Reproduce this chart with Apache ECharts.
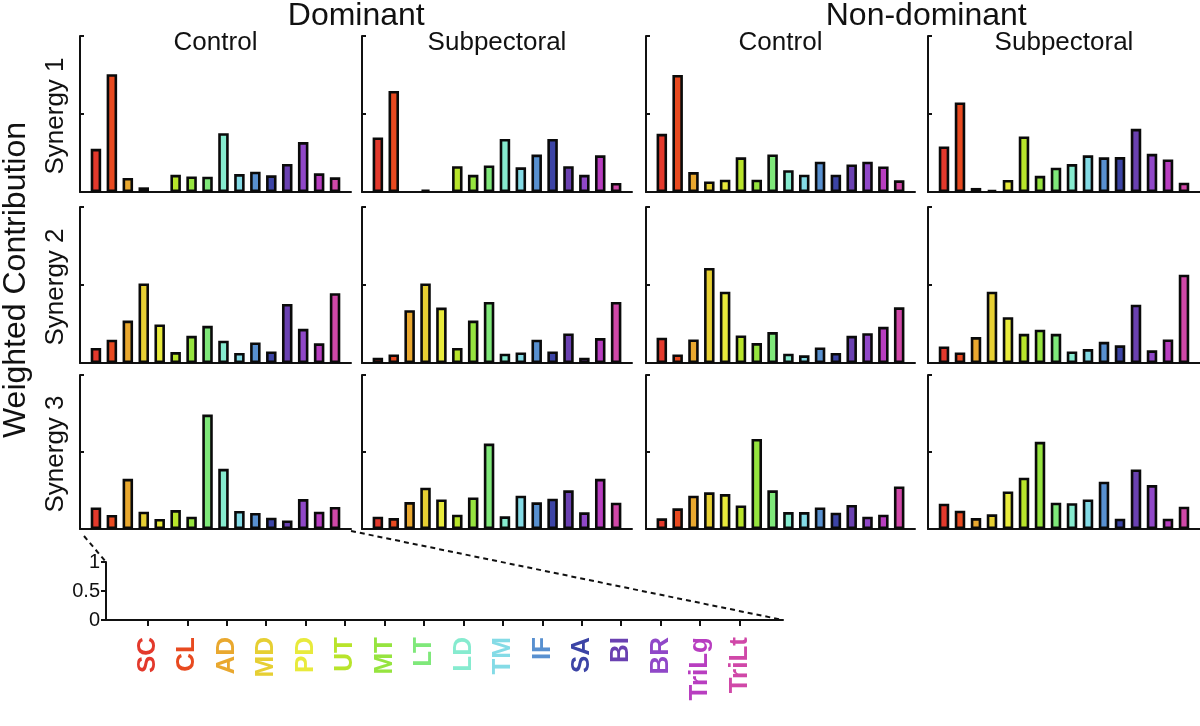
<!DOCTYPE html>
<html>
<head>
<meta charset="utf-8">
<script src="https://cdn.jsdelivr.net/npm/echarts@6/dist/echarts.min.js"></script>
<style>
  html, body { margin: 0; padding: 0; background: #fff; }
  #chart { width: 1200px; height: 726px; }
</style>
</head>
<body>
<div id="chart"></div>
<script>
// ---------- data ----------
const categories = ['SC','CL','AD','MD','PD','UT','MT','LT','LD','TM','IF','SA','BI','BR','TriLg','TriLt'];
const muscleColors = ['#e3392c','#e84a20','#e9a82f','#e6cf33','#e8ea3c','#b8e42b','#96e43f','#7fe87a','#86ebcf','#84dbe6','#5890d0','#3c44a6','#6a41b1','#9048c8','#b83ec0','#d048a8'];
const groupTitles = ['Dominant', 'Non-dominant'];
const conditionTitles = ['Control', 'Subpectoral', 'Control', 'Subpectoral'];
const synergyLabels = ['Synergy 1', 'Synergy 2', 'Synergy 3'];
const yAxisTitle = 'Weighted Contribution';
const keyTickValues = [0, 0.5, 1];

// Synergy 1
const syn1DomControl      = [0.277,0.755,0.090,0.030,0,    0.110,0.100,0.098,0.377,0.115,0.130,0.107,0.180,0.320,0.120,0.094];
const syn1DomSubpectoral  = [0.350,0.648,0,    0.015,0,    0.165,0.110,0.170,0.340,0.158,0.240,0.340,0.165,0.110,0.235,0.058];
const syn1NonControl      = [0.373,0.750,0.128,0.068,0.079,0.222,0.079,0.241,0.140,0.111,0.194,0.111,0.177,0.194,0.164,0.075];
const syn1NonSubpectoral  = [0.292,0.574,0.026,0.012,0.077,0.356,0.104,0.156,0.179,0.235,0.222,0.224,0.405,0.245,0.209,0.060];
// Synergy 2
const syn2DomControl      = [0.096,0.149,0.272,0.510,0.247,0.070,0.174,0.238,0.143,0.064,0.132,0.074,0.379,0.219,0.126,0.447];
const syn2DomSubpectoral  = [0.034,0.055,0.338,0.510,0.355,0.096,0.272,0.391,0.060,0.068,0.149,0.074,0.189,0.034,0.160,0.391];
const syn2NonControl      = [0.162,0.055,0.151,0.609,0.457,0.177,0.128,0.198,0.060,0.049,0.100,0.064,0.174,0.191,0.232,0.357];
const syn2NonSubpectoral  = [0.106,0.068,0.166,0.457,0.294,0.187,0.213,0.187,0.074,0.089,0.136,0.113,0.374,0.081,0.151,0.566];
// Synergy 3
const syn3DomControl      = [0.140,0.091,0.326,0.112,0.065,0.123,0.080,0.743,0.391,0.117,0.104,0.073,0.056,0.194,0.112,0.143];
const syn3DomSubpectoral  = [0.080,0.071,0.175,0.268,0.192,0.093,0.205,0.555,0.082,0.216,0.173,0.197,0.251,0.108,0.326,0.171];
const syn3NonControl      = [0.069,0.134,0.216,0.238,0.227,0.153,0.585,0.251,0.110,0.110,0.140,0.106,0.156,0.080,0.093,0.276];
const syn3NonSubpectoral  = [0.164,0.119,0.071,0.095,0.244,0.333,0.566,0.171,0.168,0.192,0.307,0.067,0.387,0.285,0.067,0.145];

const panelData = [
  [syn1DomControl, syn1DomSubpectoral, syn1NonControl, syn1NonSubpectoral],
  [syn2DomControl, syn2DomSubpectoral, syn2NonControl, syn2NonSubpectoral],
  [syn3DomControl, syn3DomSubpectoral, syn3NonControl, syn3NonSubpectoral]
];

// ---------- layout ----------
const FONT = '"Liberation Sans", Arial, Helvetica, sans-serif';
const INK = '#111';
const colLeft = [80, 362, 646, 928];
const colWidth = [271, 270, 269, 272];
const rowTop = [36, 207, 375];
const rowHeight = [156, 156, 154];
const key = { left: 106, top: 562, width: 677, height: 58 };

const grids = [], xAxes = [], yAxes = [], series = [];
panelData.forEach((row, r) => {
  row.forEach((values, c) => {
    const k = grids.length;
    grids.push({ left: colLeft[c], top: rowTop[r], width: colWidth[c], height: rowHeight[r], containLabel: false });
    xAxes.push({
      type: 'value', gridIndex: k, min: -1, max: 16,
      axisLine: { show: true, onZero: false, lineStyle: { color: INK, width: 2 } },
      axisTick: { show: false }, axisLabel: { show: false }, splitLine: { show: false }
    });
    yAxes.push({
      type: 'value', gridIndex: k, min: 0, max: 1, interval: 0.5,
      axisLine: { show: true, onZero: false, lineStyle: { color: INK, width: 2 } },
      axisTick: { show: true, inside: true, length: 4, lineStyle: { color: INK, width: 2 } },
      axisLabel: { show: false }, splitLine: { show: false }
    });
    series.push({
      type: 'bar', xAxisIndex: k, yAxisIndex: k,
      data: values.map((v, i) => v > 0 ? [i, v] : { value: [i, v], itemStyle: { borderWidth: 0 } }),
      barWidth: 10.5,
      itemStyle: { color: p => muscleColors[p.dataIndex], borderColor: '#0a0a0a', borderWidth: 2.6 },
      silent: true
    });
  });
});

// key axis
const kIdx = grids.length;
grids.push({ left: key.left, top: key.top, width: key.width, height: key.height });
xAxes.push({
  type: 'value', gridIndex: kIdx, min: -1.06, max: 16.1,
  axisLine: { show: true, onZero: false, lineStyle: { color: INK, width: 2 } },
  axisTick: { show: true, customValues: categories.map((_, i) => i), length: 6, lineStyle: { color: INK, width: 2 } },
  axisLabel: {
    show: true, customValues: categories.map((_, i) => i), rotate: 90, margin: 17,
    formatter: v => categories[Math.round(v)] || '',
    color: (v) => muscleColors[Math.round(v)] || INK,
    fontFamily: FONT, fontWeight: 'bold', fontSize: 26
  },
  splitLine: { show: false }
});
yAxes.push({
  type: 'value', gridIndex: kIdx, min: keyTickValues[0], max: keyTickValues[keyTickValues.length - 1], interval: 0.5,
  axisLine: { show: true, onZero: false, lineStyle: { color: INK, width: 2 } },
  axisTick: { show: true, length: 5, lineStyle: { color: INK, width: 2 } },
  axisLabel: { show: true, color: INK, fontFamily: FONT, fontSize: 20, margin: 6 },
  splitLine: { show: false }
});

// ---------- text & annotations ----------
const graphics = [];
const colCenter = c => colLeft[c] + colWidth[c] / 2;
groupTitles.forEach((t, g) => {
  graphics.push({ type: 'text', x: (colCenter(2 * g) + colCenter(2 * g + 1)) / 2 + (g ? 4 : 0), y: 16,
    style: { text: t, font: '32px ' + FONT, fill: INK, align: 'center', verticalAlign: 'middle' } });
});
conditionTitles.forEach((t, c) => {
  graphics.push({ type: 'text', x: colCenter(c), y: 43,
    style: { text: t, font: '26px ' + FONT, fill: INK, align: 'center', verticalAlign: 'middle' } });
});
synergyLabels.forEach((t, r) => {
  graphics.push({ type: 'text', x: 56, y: rowTop[r] + rowHeight[r] / 2 + 2, rotation: Math.PI / 2,
    style: { text: t, font: '26px ' + FONT, fill: INK, align: 'center', verticalAlign: 'middle' } });
});
graphics.push({ type: 'text', x: 16, y: 280, rotation: Math.PI / 2,
  style: { text: yAxisTitle, font: '32px ' + FONT, fill: INK, align: 'center', verticalAlign: 'middle' } });

const r3Bottom = rowTop[2] + rowHeight[2];
graphics.push({ type: 'line', shape: { x1: colLeft[0] + 4, y1: r3Bottom + 7, x2: key.left, y2: key.top },
  style: { stroke: INK, lineWidth: 2, lineDash: [5, 4] } });
graphics.push({ type: 'line', shape: { x1: colLeft[0] + colWidth[0], y1: r3Bottom + 2, x2: key.left + key.width, y2: key.top + key.height },
  style: { stroke: INK, lineWidth: 2, lineDash: [5, 4] } });

const chart = echarts.init(document.getElementById('chart'), null, { renderer: 'canvas' });
chart.setOption({
  animation: false,
  backgroundColor: '#fff',
  grid: grids, xAxis: xAxes, yAxis: yAxes, series: series,
  graphic: graphics
});
</script>
</body>
</html>
